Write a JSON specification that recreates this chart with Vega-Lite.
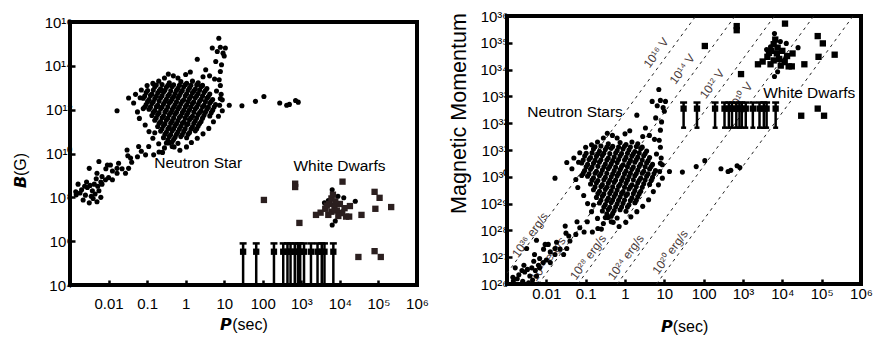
{
  "$schema": "https://vega.github.io/schema/vega-lite/v6.json",
  "padding": {"left": 10, "top": 7, "right": 0, "bottom": 0},
  "spacing": 15,
  "config": {
    "view": {"stroke": "black", "strokeWidth": 4},
    "font": "Liberation Sans",
    "axis": {"grid": false, "domain": false, "tickColor": "black", "tickWidth": 2.5, "tickSize": -5, "labelFont": "Liberation Sans", "labelFontSize": 15, "labelColor": "black", "titleFont": "Liberation Sans", "titleColor": "black", "titleFontWeight": "normal", "labelFlush": false, "labelOverlap": false, "labelBound": false},
    "text": {"font": "Liberation Sans"}
  },
  "datasets": {
    "circles": [
      {"P":0.376,"B":1.7e13,"mu":1.7e31},{"P":0.75,"B":1.9e13,"mu":1.9e31},{"P":1.06,"B":1.6e13,"mu":1.6e31},{"P":1.5,"B":2.0e13,"mu":2.0e31},{"P":2.11,"B":1.7e13,"mu":1.7e31},
      {"P":0.158,"B":1.1e13,"mu":1.1e31},{"P":0.224,"B":9e12,"mu":9e30},{"P":0.316,"B":1.05e13,"mu":1.05e31},{"P":0.447,"B":1.15e13,"mu":1.15e31},{"P":0.631,"B":9.5e12,"mu":9.5e30},{"P":0.891,"B":1.1e13,"mu":1.1e31},{"P":1.26,"B":1.0e13,"mu":1.0e31},{"P":1.78,"B":8.8e12,"mu":8.8e30},{"P":2.51,"B":1.12e13,"mu":1.12e31},{"P":3.55,"B":9.2e12,"mu":9.2e30},
      {"P":0.0944,"B":6e12,"mu":6e30},{"P":0.133,"B":5.2e12,"mu":5.2e30},{"P":0.188,"B":5.8e12,"mu":5.8e30},{"P":0.266,"B":6.2e12,"mu":6.2e30},{"P":0.376,"B":5.0e12,"mu":5.0e30},{"P":0.531,"B":5.5e12,"mu":5.5e30},{"P":0.75,"B":6.0e12,"mu":6.0e30},{"P":1.06,"B":5.3e12,"mu":5.3e30},{"P":1.5,"B":5.9e12,"mu":5.9e30},{"P":2.11,"B":5.4e12,"mu":5.4e30},{"P":2.99,"B":6.1e12,"mu":6.1e30},{"P":4.22,"B":5.2e12,"mu":5.2e30},
      {"P":0.0794,"B":3.3e12,"mu":3.3e30},{"P":0.112,"B":2.9e12,"mu":2.9e30},{"P":0.158,"B":3.2e12,"mu":3.2e30},{"P":0.224,"B":3.5e12,"mu":3.5e30},{"P":0.316,"B":3.0e12,"mu":3.0e30},{"P":0.447,"B":3.1e12,"mu":3.1e30},{"P":0.631,"B":3.4e12,"mu":3.4e30},{"P":0.891,"B":2.8e12,"mu":2.8e30},{"P":1.26,"B":3.2e12,"mu":3.2e30},{"P":1.78,"B":3.5e12,"mu":3.5e30},{"P":2.51,"B":3.0e12,"mu":3.0e30},{"P":3.55,"B":3.3e12,"mu":3.3e30},{"P":5.01,"B":2.9e12,"mu":2.9e30},
      {"P":0.0944,"B":1.7e12,"mu":1.7e30},{"P":0.133,"B":1.9e12,"mu":1.9e30},{"P":0.188,"B":1.6e12,"mu":1.6e30},{"P":0.266,"B":1.8e12,"mu":1.8e30},{"P":0.376,"B":2.0e12,"mu":2.0e30},{"P":0.531,"B":1.7e12,"mu":1.7e30},{"P":0.75,"B":1.85e12,"mu":1.85e30},{"P":1.06,"B":1.65e12,"mu":1.65e30},{"P":1.5,"B":1.9e12,"mu":1.9e30},{"P":2.11,"B":1.75e12,"mu":1.75e30},{"P":2.99,"B":1.6e12,"mu":1.6e30},{"P":4.22,"B":1.95e12,"mu":1.95e30},{"P":5.96,"B":1.7e12,"mu":1.7e30},
      {"P":0.112,"B":1.05e12,"mu":1.05e30},{"P":0.158,"B":9.2e11,"mu":9.2e29},{"P":0.224,"B":1.1e12,"mu":1.1e30},{"P":0.316,"B":9.6e11,"mu":9.6e29},{"P":0.447,"B":1.0e12,"mu":1.0e30},{"P":0.631,"B":1.08e12,"mu":1.08e30},{"P":0.891,"B":9.4e11,"mu":9.4e29},{"P":1.26,"B":1.02e12,"mu":1.02e30},{"P":1.78,"B":1.1e12,"mu":1.1e30},{"P":2.51,"B":9e11,"mu":9e29},{"P":3.55,"B":1.05e12,"mu":1.05e30},{"P":5.01,"B":9.5e11,"mu":9.5e29},
      {"P":0.133,"B":5.4e11,"mu":5.4e29},{"P":0.188,"B":6.0e11,"mu":6.0e29},{"P":0.266,"B":5.1e11,"mu":5.1e29},{"P":0.376,"B":5.8e11,"mu":5.8e29},{"P":0.531,"B":6.2e11,"mu":6.2e29},{"P":0.75,"B":5.3e11,"mu":5.3e29},{"P":1.06,"B":5.7e11,"mu":5.7e29},{"P":1.5,"B":5.0e11,"mu":5.0e29},{"P":2.11,"B":6.0e11,"mu":6.0e29},{"P":2.99,"B":5.5e11,"mu":5.5e29},{"P":4.22,"B":5.2e11,"mu":5.2e29},
      {"P":0.158,"B":3.3e11,"mu":3.3e29},{"P":0.224,"B":2.9e11,"mu":2.9e29},{"P":0.316,"B":3.4e11,"mu":3.4e29},{"P":0.447,"B":3.0e11,"mu":3.0e29},{"P":0.631,"B":3.2e11,"mu":3.2e29},{"P":0.891,"B":2.8e11,"mu":2.8e29},{"P":1.26,"B":3.5e11,"mu":3.5e29},{"P":1.78,"B":3.1e11,"mu":3.1e29},{"P":2.51,"B":2.9e11,"mu":2.9e29},
      {"P":0.188,"B":1.7e11,"mu":1.7e29},{"P":0.266,"B":1.9e11,"mu":1.9e29},{"P":0.376,"B":1.6e11,"mu":1.6e29},{"P":0.531,"B":1.85e11,"mu":1.85e29},{"P":0.75,"B":1.75e11,"mu":1.75e29},{"P":1.06,"B":2.0e11,"mu":2.0e29},{"P":1.5,"B":1.65e11,"mu":1.65e29},{"P":2.11,"B":1.8e11,"mu":1.8e29},
      {"P":0.224,"B":1.05e11,"mu":1.05e29},{"P":0.316,"B":9.3e10,"mu":9.3e28},{"P":0.447,"B":1.1e11,"mu":1.1e29},{"P":0.631,"B":9.8e10,"mu":9.8e28},{"P":0.891,"B":1.02e11,"mu":1.02e29},{"P":1.26,"B":9.1e10,"mu":9.1e28},{"P":1.78,"B":1.08e11,"mu":1.08e29},
      {"P":0.266,"B":5.3e10,"mu":5.3e28},{"P":0.376,"B":6.0e10,"mu":6.0e28},{"P":0.531,"B":5.5e10,"mu":5.5e28},{"P":0.75,"B":5.9e10,"mu":5.9e28},{"P":1.06,"B":5.2e10,"mu":5.2e28},
      {"P":0.316,"B":3.0e10,"mu":3.0e28},{"P":0.447,"B":3.4e10,"mu":3.4e28},{"P":0.631,"B":2.9e10,"mu":2.9e28},
      {"P":0.173,"B":1.33e13,"mu":1.33e31},{"P":0.244,"B":1.4e13,"mu":1.4e31},{"P":0.345,"B":1.28e13,"mu":1.28e31},{"P":0.487,"B":1.36e13,"mu":1.36e31},{"P":0.688,"B":1.3e13,"mu":1.3e31},{"P":0.972,"B":1.38e13,"mu":1.38e31},{"P":1.37,"B":1.3e13,"mu":1.3e31},{"P":1.94,"B":1.35e13,"mu":1.35e31},{"P":2.74,"B":1.28e13,"mu":1.28e31},
      {"P":0.103,"B":7.5e12,"mu":7.5e30},{"P":0.145,"B":7.8e12,"mu":7.8e30},{"P":0.205,"B":7.2e12,"mu":7.2e30},{"P":0.29,"B":7.6e12,"mu":7.6e30},{"P":0.41,"B":7.3e12,"mu":7.3e30},{"P":0.579,"B":7.7e12,"mu":7.7e30},{"P":0.818,"B":7.4e12,"mu":7.4e30},{"P":1.155,"B":7.6e12,"mu":7.6e30},{"P":1.63,"B":7.2e12,"mu":7.2e30},{"P":2.3,"B":7.8e12,"mu":7.8e30},{"P":3.25,"B":7.4e12,"mu":7.4e30},
      {"P":0.0866,"B":4.2e12,"mu":4.2e30},{"P":0.122,"B":4.4e12,"mu":4.4e30},{"P":0.173,"B":4.1e12,"mu":4.1e30},{"P":0.244,"B":4.3e12,"mu":4.3e30},{"P":0.345,"B":4.2e12,"mu":4.2e30},{"P":0.487,"B":4.0e12,"mu":4.0e30},{"P":0.688,"B":4.4e12,"mu":4.4e30},{"P":0.972,"B":4.2e12,"mu":4.2e30},{"P":1.37,"B":4.1e12,"mu":4.1e30},{"P":1.94,"B":4.3e12,"mu":4.3e30},{"P":2.74,"B":4.2e12,"mu":4.2e30},{"P":3.87,"B":4.0e12,"mu":4.0e30},
      {"P":0.103,"B":2.37e12,"mu":2.37e30},{"P":0.145,"B":2.3e12,"mu":2.3e30},{"P":0.205,"B":2.45e12,"mu":2.45e30},{"P":0.29,"B":2.35e12,"mu":2.35e30},{"P":0.41,"B":2.4e12,"mu":2.4e30},{"P":0.579,"B":2.3e12,"mu":2.3e30},{"P":0.818,"B":2.42e12,"mu":2.42e30},{"P":1.155,"B":2.36e12,"mu":2.36e30},{"P":1.63,"B":2.3e12,"mu":2.3e30},{"P":2.3,"B":2.4e12,"mu":2.4e30},{"P":3.25,"B":2.35e12,"mu":2.35e30},{"P":4.6,"B":2.4e12,"mu":2.4e30},
      {"P":0.0866,"B":1.33e12,"mu":1.33e30},{"P":0.122,"B":1.3e12,"mu":1.3e30},{"P":0.173,"B":1.36e12,"mu":1.36e30},{"P":0.244,"B":1.32e12,"mu":1.32e30},{"P":0.345,"B":1.35e12,"mu":1.35e30},{"P":0.487,"B":1.3e12,"mu":1.3e30},{"P":0.688,"B":1.34e12,"mu":1.34e30},{"P":0.972,"B":1.31e12,"mu":1.31e30},{"P":1.37,"B":1.36e12,"mu":1.36e30},{"P":1.94,"B":1.32e12,"mu":1.32e30},{"P":2.74,"B":1.35e12,"mu":1.35e30},{"P":3.87,"B":1.3e12,"mu":1.3e30},{"P":5.47,"B":1.33e12,"mu":1.33e30},
      {"P":0.145,"B":7.5e11,"mu":7.5e29},{"P":0.205,"B":7.3e11,"mu":7.3e29},{"P":0.29,"B":7.7e11,"mu":7.7e29},{"P":0.41,"B":7.4e11,"mu":7.4e29},{"P":0.579,"B":7.6e11,"mu":7.6e29},{"P":0.818,"B":7.3e11,"mu":7.3e29},{"P":1.155,"B":7.5e11,"mu":7.5e29},{"P":1.63,"B":7.7e11,"mu":7.7e29},{"P":2.3,"B":7.4e11,"mu":7.4e29},{"P":3.25,"B":7.6e11,"mu":7.6e29},{"P":4.6,"B":7.3e11,"mu":7.3e29},
      {"P":0.173,"B":4.2e11,"mu":4.2e29},{"P":0.244,"B":4.3e11,"mu":4.3e29},{"P":0.345,"B":4.1e11,"mu":4.1e29},{"P":0.487,"B":4.2e11,"mu":4.2e29},{"P":0.688,"B":4.4e11,"mu":4.4e29},{"P":0.972,"B":4.1e11,"mu":4.1e29},{"P":1.37,"B":4.2e11,"mu":4.2e29},{"P":1.94,"B":4.3e11,"mu":4.3e29},{"P":2.74,"B":4.1e11,"mu":4.1e29},
      {"P":0.205,"B":2.37e11,"mu":2.37e29},{"P":0.29,"B":2.3e11,"mu":2.3e29},{"P":0.41,"B":2.4e11,"mu":2.4e29},{"P":0.579,"B":2.35e11,"mu":2.35e29},{"P":0.818,"B":2.4e11,"mu":2.4e29},{"P":1.155,"B":2.3e11,"mu":2.3e29},{"P":1.63,"B":2.38e11,"mu":2.38e29},{"P":2.3,"B":2.35e11,"mu":2.35e29},
      {"P":0.244,"B":1.33e11,"mu":1.33e29},{"P":0.345,"B":1.3e11,"mu":1.3e29},{"P":0.487,"B":1.36e11,"mu":1.36e29},{"P":0.688,"B":1.32e11,"mu":1.32e29},{"P":0.972,"B":1.35e11,"mu":1.35e29},{"P":1.37,"B":1.3e11,"mu":1.3e29},{"P":1.94,"B":1.34e11,"mu":1.34e29},
      {"P":0.29,"B":7.5e10,"mu":7.5e28},{"P":0.41,"B":7.3e10,"mu":7.3e28},{"P":0.579,"B":7.6e10,"mu":7.6e28},{"P":0.818,"B":7.4e10,"mu":7.4e28},{"P":1.155,"B":7.5e10,"mu":7.5e28},
      {"P":0.345,"B":4.2e10,"mu":4.2e28},{"P":0.487,"B":4.3e10,"mu":4.3e28},
      {"P":0.0166,"B":8.9e11,"mu":8.9e29},{"P":0.0331,"B":3.4e12,"mu":3.4e30},{"P":0.0501,"B":5.0e12,"mu":5.0e30},{"P":0.0447,"B":2.0e12,"mu":2.0e30},{"P":0.0562,"B":7.9e11,"mu":7.9e29},{"P":0.0631,"B":4.0e11,"mu":4.0e29},{"P":0.0708,"B":7.9e12,"mu":7.9e30},{"P":0.1,"B":1.26e13,"mu":1.26e31},{"P":0.141,"B":1.58e13,"mu":1.58e31},{"P":0.2,"B":2.0e13,"mu":2.0e31},{"P":0.282,"B":2.8e13,"mu":2.8e31},{"P":0.355,"B":4.2e13,"mu":4.2e31},{"P":0.479,"B":3.5e13,"mu":3.5e31},{"P":0.631,"B":2.8e13,"mu":2.8e31},{"P":1.0,"B":4.0e13,"mu":4.0e31},{"P":1.32,"B":5.2e13,"mu":5.2e31},{"P":2.0,"B":2.0e14,"mu":2.0e32},{"P":3.31,"B":6.6e13,"mu":6.6e31},{"P":2.82,"B":3.2e13,"mu":3.2e31},{"P":4.17,"B":3.5e13,"mu":3.5e31},{"P":5.62,"B":2.5e13,"mu":2.5e31},{"P":7.41,"B":2.3e13,"mu":2.3e31},{"P":7.94,"B":1.26e13,"mu":1.26e31},{"P":6.31,"B":7.1e12,"mu":7.1e30},{"P":8.32,"B":5.0e12,"mu":5.0e30},{"P":8.91,"B":2.8e12,"mu":2.8e30},{"P":7.59,"B":1.58e12,"mu":1.58e30},{"P":8.91,"B":8.9e11,"mu":8.9e29},{"P":7.08,"B":5.0e11,"mu":5.0e29},{"P":5.25,"B":2.8e11,"mu":2.8e29},{"P":3.98,"B":1.4e11,"mu":1.4e29},{"P":2.82,"B":7.9e10,"mu":7.9e28},{"P":2.0,"B":5.0e10,"mu":5.0e28},{"P":1.41,"B":3.2e10,"mu":3.2e28},{"P":1.05,"B":2.0e10,"mu":2.0e28},{"P":0.708,"B":1.4e10,"mu":1.4e28},{"P":0.501,"B":2.0e10,"mu":2.0e28},{"P":0.282,"B":1.8e10,"mu":1.8e28},{"P":0.2,"B":2.8e10,"mu":2.8e28},{"P":0.141,"B":5.0e10,"mu":5.0e28},{"P":0.112,"B":1.0e11,"mu":1.0e29},{"P":0.0891,"B":2.0e11,"mu":2.0e29},{"P":0.158,"B":8.9e10,"mu":8.9e28},{"P":0.0794,"B":1.12e12,"mu":1.12e30},{"P":0.066,"B":3.5e12,"mu":3.5e30},
      {"P":7.24,"B":1.8e15,"mu":1.8e33},{"P":4.9,"B":6.5e14,"mu":6.5e32},{"P":7.94,"B":7.1e14,"mu":7.1e32},{"P":10.7,"B":6.5e14,"mu":6.5e32},{"P":9.33,"B":3.8e14,"mu":3.8e32},{"P":6.03,"B":1.58e14,"mu":1.58e32},{"P":8.51,"B":1.12e14,"mu":1.12e32},{"P":7.94,"B":5.5e13,"mu":5.5e31},{"P":6.6,"B":4.5e14,"mu":4.5e32},{"P":10.0,"B":2.8e14,"mu":2.8e32},
      {"P":0.0302,"B":1.45e10,"mu":1.45e28},{"P":0.0603,"B":2.1e10,"mu":2.1e28},{"P":0.11,"B":2.1e10,"mu":2.1e28},{"P":0.0912,"B":8.7e9,"mu":8.7e27},{"P":0.148,"B":8.7e9,"mu":8.7e27},{"P":0.204,"B":1.17e10,"mu":1.17e28},{"P":0.372,"B":3.0e10,"mu":3.0e28},{"P":0.447,"B":2.1e10,"mu":2.1e28},{"P":0.0372,"B":6.2e9,"mu":6.2e27},{"P":0.0275,"B":1.26e9,"mu":1.26e27},{"P":0.0331,"B":2.1e9,"mu":2.1e27},{"P":0.0182,"B":3.6e9,"mu":3.6e27},{"P":0.0166,"B":2.1e9,"mu":2.1e27},{"P":0.0112,"B":3.0e9,"mu":3.0e27},{"P":0.00933,"B":3.0e9,"mu":3.0e27},{"P":0.00562,"B":4.3e9,"mu":4.3e27},{"P":0.00316,"B":2.1e9,"mu":2.1e27},{"P":0.00501,"B":1.26e9,"mu":1.26e27},{"P":0.00676,"B":8.9e8,"mu":8.9e26},{"P":0.0166,"B":1.26e9,"mu":1.26e27},{"P":0.0224,"B":2.0e9,"mu":2.0e27},{"P":0.0398,"B":4.0e9,"mu":4.0e27},{"P":0.0562,"B":7.1e9,"mu":7.1e27},{"P":0.0316,"B":7.9e9,"mu":7.9e27},{"P":0.00851,"B":2.0e9,"mu":2.0e27},{"P":0.0126,"B":1.58e9,"mu":1.58e27},{"P":0.0708,"B":1.26e10,"mu":1.26e28},{"P":0.251,"B":1.12e10,"mu":1.12e28},
      {"P":0.00162,"B":4.0e8,"mu":4.0e26},{"P":0.00182,"B":1.58e8,"mu":1.58e26},{"P":0.00219,"B":7.6e7,"mu":7.6e25},{"P":0.00316,"B":5.6e7,"mu":5.6e25},{"P":0.0038,"B":2.0e8,"mu":2.0e26},{"P":0.00427,"B":4.0e8,"mu":4.0e26},{"P":0.00479,"B":7.1e8,"mu":7.1e26},{"P":0.00282,"B":2.8e8,"mu":2.8e26},{"P":0.00562,"B":2.0e8,"mu":2.0e26},{"P":0.00501,"B":6.3e7,"mu":6.3e25},{"P":0.00676,"B":4.0e8,"mu":4.0e26},{"P":0.00832,"B":6.3e8,"mu":6.3e26},{"P":0.01,"B":7.9e8,"mu":7.9e26},{"P":0.0126,"B":6.3e8,"mu":6.3e26},{"P":0.00631,"B":1.0e8,"mu":1.0e26},{"P":0.00269,"B":5.0e8,"mu":5.0e26},{"P":0.0024,"B":3.2e8,"mu":3.2e26},{"P":0.00355,"B":1.12e8,"mu":1.12e26},{"P":0.00447,"B":1.41e8,"mu":1.41e26},{"P":0.00251,"B":1.26e8,"mu":1.26e26},{"P":0.00398,"B":8.9e7,"mu":8.9e25},{"P":0.002,"B":2.2e8,"mu":2.2e26},{"P":0.00141,"B":1.78e8,"mu":1.78e26},{"P":0.00525,"B":3.2e8,"mu":3.2e26},{"P":0.00331,"B":3.5e8,"mu":3.5e26},{"P":0.00631,"B":5.0e8,"mu":5.0e26},{"P":0.00145,"B":1.3e8,"mu":1.3e26},
      {"P":7.94,"B":3.2e12,"mu":3.2e30},{"P":13.5,"B":1.58e12,"mu":1.58e30},{"P":28.8,"B":1.5e12,"mu":1.5e30},{"P":64.6,"B":2.4e12,"mu":2.4e30},{"P":107,"B":4.0e12,"mu":4.0e30},{"P":275,"B":2.0e12,"mu":2.0e30},{"P":417,"B":1.58e12,"mu":1.58e30},{"P":490,"B":1.74e12,"mu":1.74e30},{"P":708,"B":2.6e12,"mu":2.6e30},{"P":832,"B":2.2e12,"mu":2.2e30},
      {"P":6310,"B":2.2e8,"mu":2.2e35},{"P":25100,"B":6.6e7,"mu":6.6e34},{"P":6310,"B":5.5e6,"mu":5.5e33},{"P":12600,"B":9.5e7,"mu":9.5e34},{"P":7590,"B":8.3e6,"mu":8.3e33},{"P":8910,"B":1.12e8,"mu":1.12e35},{"P":5010,"B":7.1e7,"mu":7.1e34},{"P":11200,"B":2.2e7,"mu":2.2e34},{"P":3980,"B":5.6e7,"mu":5.6e34}
    ],
    "squares": [
      {"P":107,"B":7.6e7,"mu":7.6e34},{"P":692,"B":4.2e8,"mu":4.2e35},{"P":692,"B":2.95e8,"mu":2.95e35},{"P":891,"B":6.8e6,"mu":6.8e33},{"P":11700,"B":5.2e8,"mu":5.2e35},{"P":79400,"B":1.78e8,"mu":1.78e35},{"P":107000,"B":9.5e7,"mu":9.5e34},{"P":83200,"B":3.0e7,"mu":3.0e34},{"P":214000,"B":3.6e7,"mu":3.6e34},{"P":36300,"B":1.58e7,"mu":1.58e34},{"P":30200,"B":1.9e5,"mu":1.9e32},{"P":79400,"B":3.5e5,"mu":3.5e32},{"P":115000,"B":1.9e5,"mu":1.9e32},
      {"P":3160,"B":2.0e7,"mu":2.0e34},{"P":4170,"B":3.0e7,"mu":3.0e34},{"P":5250,"B":5.0e7,"mu":5.0e34},{"P":6030,"B":8.9e7,"mu":8.9e34},{"P":6610,"B":1.32e8,"mu":1.32e35},{"P":7240,"B":4.0e7,"mu":4.0e34},{"P":8320,"B":2.5e7,"mu":2.5e34},{"P":10000,"B":5.0e7,"mu":5.0e34},{"P":11500,"B":1.9e7,"mu":1.9e34},{"P":13200,"B":3.2e7,"mu":3.2e34},{"P":14500,"B":1.32e7,"mu":1.32e34},{"P":17400,"B":1.32e7,"mu":1.32e34},{"P":9120,"B":1.41e7,"mu":1.41e34},{"P":4570,"B":4.2e7,"mu":4.2e34},{"P":2400,"B":1.58e7,"mu":1.58e34},{"P":18200,"B":4.0e7,"mu":4.0e34},{"P":6030,"B":2.2e7,"mu":2.2e34},{"P":5010,"B":1.58e7,"mu":1.58e34},{"P":7590,"B":6.6e7,"mu":6.6e34}
    ],
    "limits": [
      {"P":30.9,"B":3.3e5,"Blo":1e4,"Bhi":7.9e5,"mu":3.5e32,"mulo":6.8e31,"muhi":5.9e32},
      {"P":67.6,"B":3.3e5,"Blo":1e4,"Bhi":7.9e5,"mu":3.5e32,"mulo":6.8e31,"muhi":5.9e32},
      {"P":195,"B":3.3e5,"Blo":1e4,"Bhi":7.9e5,"mu":3.5e32,"mulo":6.8e31,"muhi":5.9e32},
      {"P":339,"B":3.3e5,"Blo":1e4,"Bhi":7.9e5,"mu":3.5e32,"mulo":6.8e31,"muhi":5.9e32},
      {"P":437,"B":3.3e5,"Blo":1e4,"Bhi":7.9e5,"mu":3.5e32,"mulo":6.8e31,"muhi":5.9e32},
      {"P":525,"B":3.3e5,"Blo":1e4,"Bhi":7.9e5,"mu":3.5e32,"mulo":6.8e31,"muhi":5.9e32},
      {"P":676,"B":3.3e5,"Blo":1e4,"Bhi":7.9e5,"mu":3.5e32,"mulo":6.8e31,"muhi":5.9e32},
      {"P":813,"B":3.3e5,"Blo":1e4,"Bhi":7.9e5,"mu":3.5e32,"mulo":6.8e31,"muhi":5.9e32},
      {"P":933,"B":3.3e5,"Blo":1e4,"Bhi":7.9e5,"mu":3.5e32,"mulo":6.8e31,"muhi":5.9e32},
      {"P":1175,"B":3.3e5,"Blo":1e4,"Bhi":7.9e5,"mu":3.5e32,"mulo":6.8e31,"muhi":5.9e32},
      {"P":1778,"B":3.3e5,"Blo":1e4,"Bhi":7.9e5,"mu":3.5e32,"mulo":6.8e31,"muhi":5.9e32},
      {"P":2630,"B":3.3e5,"Blo":1e4,"Bhi":7.9e5,"mu":3.5e32,"mulo":6.8e31,"muhi":5.9e32},
      {"P":3388,"B":3.3e5,"Blo":1e4,"Bhi":7.9e5,"mu":3.5e32,"mulo":6.8e31,"muhi":5.9e32},
      {"P":3981,"B":3.3e5,"Blo":1e4,"Bhi":7.9e5,"mu":3.5e32,"mulo":6.8e31,"muhi":5.9e32},
      {"P":6761,"B":3.3e5,"Blo":1e4,"Bhi":7.9e5,"mu":3.5e32,"mulo":6.8e31,"muhi":5.9e32}
    ],
    "lines": [
      {"line":"A","P":0.001,"mu":2.51e26},{"line":"A","P":63.1,"mu":1e36},
      {"line":"B","P":0.00631,"mu":1e26},{"line":"B","P":631,"mu":1e36},
      {"line":"C","P":0.0631,"mu":1e26},{"line":"C","P":6310,"mu":1e36},
      {"line":"D","P":0.631,"mu":1e26},{"line":"D","P":63100,"mu":1e36},
      {"line":"E","P":6.31,"mu":1e26},{"line":"E","P":631000,"mu":1e36}
    ],
    "linelabels": [
      {"label":"10³⁶ erg/s","P":0.00385,"mu":6.8e27},
      {"label":"10³² erg/s","P":0.011,"mu":8.5e26},
      {"label":"10²⁸ erg/s","P":0.115,"mu":1.0e27},
      {"label":"10²⁴ erg/s","P":1.05,"mu":1.0e27},
      {"label":"10²⁰ erg/s","P":14.1,"mu":1.55e27},
      {"label":"10¹⁶ V","P":6.2,"mu":4.2e34},
      {"label":"10¹⁴ V","P":28.4,"mu":1.05e34},
      {"label":"10¹² V","P":164,"mu":2.9e33},
      {"label":"10¹⁰ V","P":851,"mu":9.5e32}
    ],
    "notesL": [
      {"text":"Neutron Star","P":2.11,"B":3.7e9},
      {"text":"White Dwarfs","P":9770,"B":2.7e9}
    ],
    "notesR": [
      {"text":"Neutron Stars","P":0.0537,"mu":2.6e32},
      {"text":"White Dwarfs","P":48400,"mu":1.35e33}
    ],
    "empty": []
  },
  "hconcat": [
    {
      "spacing": -4,
      "vconcat": [
        {
          "width": 347,
          "height": 1,
          "view": {"stroke": null},
          "data": {"name": "empty"},
          "mark": {"type": "point", "opacity": 0},
          "encoding": {}
        },
        {
          "width": 347,
          "height": 263,
          "encoding": {
            "x": {"field": "P", "type": "quantitative", "scale": {"type": "log", "domain": [0.001, 1000000], "nice": false},
                  "axis": {"values": [0.01,0.1,1,10,100,1000,10000,100000,1000000], "labelExpr": "['0.01','0.1','1','10','100','10³','10⁴','10⁵','10⁶'][round(log(datum.value)/LN10)+2]", "title": "𝙋(sec)", "titleFontSize": 16, "labelPadding": 16, "titlePadding": 5}}
          },
          "layer": [
            {"data": {"name": "notesL"}, "mark": {"type": "text", "fontSize": 15.5, "color": "black"},
             "encoding": {"y": {"field": "B", "type": "quantitative", "scale": {"type": "log", "domain": [1e4, 1e16], "nice": false},
                                "axis": {"values": [1e4,1e6,1e8,1e10,1e12,1e14,1e16], "labelExpr": "'10'+['⁴','⁶','⁸','¹⁰','¹²','¹⁴','¹⁶'][(round(log(datum.value)/LN10)-4)/2]", "title": "𝘽(G)", "titleFontSize": 16, "labelPadding": 3, "titlePadding": 15, "titleY": 148}},
                          "text": {"field": "text"}}},
            {"data": {"name": "circles"}, "mark": {"type": "circle", "size": 26, "color": "black", "opacity": 1, "clip": true},
             "encoding": {"y": {"field": "B", "type": "quantitative", "scale": {"type": "log", "domain": [1e4, 1e16], "nice": false},
                                "axis": {"values": [1e4,1e6,1e8,1e10,1e12,1e14,1e16], "labelExpr": "'10'+['⁴','⁶','⁸','¹⁰','¹²','¹⁴','¹⁶'][(round(log(datum.value)/LN10)-4)/2]", "title": "𝘽(G)", "titleFontSize": 16, "labelPadding": 3, "titlePadding": 15, "titleY": 148}}}},
            {"data": {"name": "limits"}, "mark": {"type": "rule", "strokeWidth": 2.5, "color": "black", "clip": true},
             "encoding": {"y": {"field": "Blo", "type": "quantitative", "scale": {"type": "log", "domain": [1e4, 1e16], "nice": false},
                                "axis": {"values": [1e4,1e6,1e8,1e10,1e12,1e14,1e16], "labelExpr": "'10'+['⁴','⁶','⁸','¹⁰','¹²','¹⁴','¹⁶'][(round(log(datum.value)/LN10)-4)/2]", "title": "𝘽(G)", "titleFontSize": 16, "labelPadding": 3, "titlePadding": 15, "titleY": 148}}, "y2": {"field": "Bhi"}}},
            {"data": {"name": "limits"}, "mark": {"type": "tick", "orient": "horizontal", "size": 7, "thickness": 2.5, "color": "black", "opacity": 1},
             "encoding": {"y": {"field": "Bhi", "type": "quantitative", "scale": {"type": "log", "domain": [1e4, 1e16], "nice": false},
                                "axis": {"values": [1e4,1e6,1e8,1e10,1e12,1e14,1e16], "labelExpr": "'10'+['⁴','⁶','⁸','¹⁰','¹²','¹⁴','¹⁶'][(round(log(datum.value)/LN10)-4)/2]", "title": "𝘽(G)", "titleFontSize": 16, "labelPadding": 3, "titlePadding": 15, "titleY": 148}}}},
            {"data": {"name": "limits"}, "mark": {"type": "square", "size": 40, "color": "black", "opacity": 1},
             "encoding": {"y": {"field": "B", "type": "quantitative", "scale": {"type": "log", "domain": [1e4, 1e16], "nice": false},
                                "axis": {"values": [1e4,1e6,1e8,1e10,1e12,1e14,1e16], "labelExpr": "'10'+['⁴','⁶','⁸','¹⁰','¹²','¹⁴','¹⁶'][(round(log(datum.value)/LN10)-4)/2]", "title": "𝘽(G)", "titleFontSize": 16, "labelPadding": 3, "titlePadding": 15, "titleY": 148}}}},
            {"data": {"name": "squares"}, "mark": {"type": "square", "size": 40, "color": "#2b1f1f", "opacity": 1, "clip": true},
             "encoding": {"y": {"field": "B", "type": "quantitative", "scale": {"type": "log", "domain": [1e4, 1e16], "nice": false},
                                "axis": {"values": [1e4,1e6,1e8,1e10,1e12,1e14,1e16], "labelExpr": "'10'+['⁴','⁶','⁸','¹⁰','¹²','¹⁴','¹⁶'][(round(log(datum.value)/LN10)-4)/2]", "title": "𝘽(G)", "titleFontSize": 16, "labelPadding": 3, "titlePadding": 15, "titleY": 148}}}}
          ]
        }
      ]
    },
    {
      "width": 354,
      "height": 268,
      "encoding": {
        "x": {"field": "P", "type": "quantitative", "scale": {"type": "log", "domain": [0.001, 1000000], "nice": false},
              "axis": {"values": [0.01,0.1,1,10,100,1000,10000,100000,1000000], "labelExpr": "['0.01','0.1','1','10','100','10³','10⁴','10⁵','10⁶'][round(log(datum.value)/LN10)+2]", "title": "𝙋(sec)", "titleFontSize": 16, "labelPadding": 7, "titlePadding": 17}}
      },
      "layer": [
        {"data": {"name": "lines"}, "mark": {"type": "line", "strokeDash": [3, 4], "strokeWidth": 1, "color": "#222222", "clip": true},
         "encoding": {"y": {"field": "mu", "type": "quantitative", "scale": {"type": "log", "domain": [1e26, 1e36], "nice": false},
                            "axis": {"values": [1e26,1e27,1e28,1e29,1e30,1e31,1e32,1e33,1e34,1e35,1e36], "labelExpr": "'10'+['²⁶','²⁷','²⁸','²⁹','³⁰','³¹','³²','³³','³⁴','³⁵','³⁶'][round(log(datum.value)/LN10)-26]", "title": "Magnetic Momentum", "titleFontSize": 21.5, "labelPadding": 4, "titlePadding": 9, "titleY": 97}},
                      "detail": {"field": "line"}}},
        {"data": {"name": "linelabels"}, "mark": {"type": "text", "fontSize": 12, "angle": 306, "color": "#4a3b3b"},
         "encoding": {"y": {"field": "mu", "type": "quantitative", "scale": {"type": "log", "domain": [1e26, 1e36], "nice": false},
                            "axis": {"values": [1e26,1e27,1e28,1e29,1e30,1e31,1e32,1e33,1e34,1e35,1e36], "labelExpr": "'10'+['²⁶','²⁷','²⁸','²⁹','³⁰','³¹','³²','³³','³⁴','³⁵','³⁶'][round(log(datum.value)/LN10)-26]", "title": "Magnetic Momentum", "titleFontSize": 21.5, "labelPadding": 4, "titlePadding": 9, "titleY": 97}},
                      "text": {"field": "label"}}},
        {"data": {"name": "notesR"}, "mark": {"type": "text", "fontSize": 15.5, "color": "black"},
         "encoding": {"y": {"field": "mu", "type": "quantitative", "scale": {"type": "log", "domain": [1e26, 1e36], "nice": false},
                            "axis": {"values": [1e26,1e27,1e28,1e29,1e30,1e31,1e32,1e33,1e34,1e35,1e36], "labelExpr": "'10'+['²⁶','²⁷','²⁸','²⁹','³⁰','³¹','³²','³³','³⁴','³⁵','³⁶'][round(log(datum.value)/LN10)-26]", "title": "Magnetic Momentum", "titleFontSize": 21.5, "labelPadding": 4, "titlePadding": 9, "titleY": 97}},
                      "text": {"field": "text"}}},
        {"data": {"name": "circles"}, "mark": {"type": "circle", "size": 26, "color": "black", "opacity": 1, "clip": true},
         "encoding": {"y": {"field": "mu", "type": "quantitative", "scale": {"type": "log", "domain": [1e26, 1e36], "nice": false},
                            "axis": {"values": [1e26,1e27,1e28,1e29,1e30,1e31,1e32,1e33,1e34,1e35,1e36], "labelExpr": "'10'+['²⁶','²⁷','²⁸','²⁹','³⁰','³¹','³²','³³','³⁴','³⁵','³⁶'][round(log(datum.value)/LN10)-26]", "title": "Magnetic Momentum", "titleFontSize": 21.5, "labelPadding": 4, "titlePadding": 9, "titleY": 97}}}},
        {"data": {"name": "limits"}, "mark": {"type": "rule", "strokeWidth": 2.5, "color": "black", "clip": true},
         "encoding": {"y": {"field": "mulo", "type": "quantitative", "scale": {"type": "log", "domain": [1e26, 1e36], "nice": false},
                            "axis": {"values": [1e26,1e27,1e28,1e29,1e30,1e31,1e32,1e33,1e34,1e35,1e36], "labelExpr": "'10'+['²⁶','²⁷','²⁸','²⁹','³⁰','³¹','³²','³³','³⁴','³⁵','³⁶'][round(log(datum.value)/LN10)-26]", "title": "Magnetic Momentum", "titleFontSize": 21.5, "labelPadding": 4, "titlePadding": 9, "titleY": 97}}, "y2": {"field": "muhi"}}},
        {"data": {"name": "limits"}, "mark": {"type": "tick", "orient": "horizontal", "size": 7, "thickness": 2.5, "color": "black", "opacity": 1},
         "encoding": {"y": {"field": "muhi", "type": "quantitative", "scale": {"type": "log", "domain": [1e26, 1e36], "nice": false},
                            "axis": {"values": [1e26,1e27,1e28,1e29,1e30,1e31,1e32,1e33,1e34,1e35,1e36], "labelExpr": "'10'+['²⁶','²⁷','²⁸','²⁹','³⁰','³¹','³²','³³','³⁴','³⁵','³⁶'][round(log(datum.value)/LN10)-26]", "title": "Magnetic Momentum", "titleFontSize": 21.5, "labelPadding": 4, "titlePadding": 9, "titleY": 97}}}},
        {"data": {"name": "limits"}, "mark": {"type": "tick", "orient": "horizontal", "size": 5, "thickness": 2.5, "color": "black", "opacity": 1},
         "encoding": {"y": {"field": "mulo", "type": "quantitative", "scale": {"type": "log", "domain": [1e26, 1e36], "nice": false},
                            "axis": {"values": [1e26,1e27,1e28,1e29,1e30,1e31,1e32,1e33,1e34,1e35,1e36], "labelExpr": "'10'+['²⁶','²⁷','²⁸','²⁹','³⁰','³¹','³²','³³','³⁴','³⁵','³⁶'][round(log(datum.value)/LN10)-26]", "title": "Magnetic Momentum", "titleFontSize": 21.5, "labelPadding": 4, "titlePadding": 9, "titleY": 97}}}},
        {"data": {"name": "limits"}, "mark": {"type": "square", "size": 40, "color": "black", "opacity": 1},
         "encoding": {"y": {"field": "mu", "type": "quantitative", "scale": {"type": "log", "domain": [1e26, 1e36], "nice": false},
                            "axis": {"values": [1e26,1e27,1e28,1e29,1e30,1e31,1e32,1e33,1e34,1e35,1e36], "labelExpr": "'10'+['²⁶','²⁷','²⁸','²⁹','³⁰','³¹','³²','³³','³⁴','³⁵','³⁶'][round(log(datum.value)/LN10)-26]", "title": "Magnetic Momentum", "titleFontSize": 21.5, "labelPadding": 4, "titlePadding": 9, "titleY": 97}}}},
        {"data": {"name": "squares"}, "mark": {"type": "square", "size": 40, "color": "black", "opacity": 1, "clip": true},
         "encoding": {"y": {"field": "mu", "type": "quantitative", "scale": {"type": "log", "domain": [1e26, 1e36], "nice": false},
                            "axis": {"values": [1e26,1e27,1e28,1e29,1e30,1e31,1e32,1e33,1e34,1e35,1e36], "labelExpr": "'10'+['²⁶','²⁷','²⁸','²⁹','³⁰','³¹','³²','³³','³⁴','³⁵','³⁶'][round(log(datum.value)/LN10)-26]", "title": "Magnetic Momentum", "titleFontSize": 21.5, "labelPadding": 4, "titlePadding": 9, "titleY": 97}}}}
      ]
    }
  ]
}
